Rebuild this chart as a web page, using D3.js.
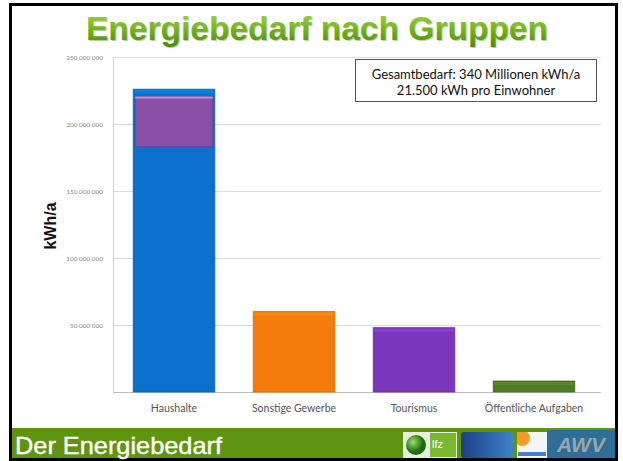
<!DOCTYPE html>
<html><head><meta charset="utf-8">
<script src="https://cdn.jsdelivr.net/npm/d3@7"></script>
<style>html,body{margin:0;padding:0;background:#fff;}svg{display:block;}</style>
</head><body>
<svg id="c" width="623" height="461"></svg>
<script>
const categories = ["Haushalte", "Sonstige Gewerbe", "Tourismus", "Öffentliche Aufgaben"];
const values = [226000000, 60000000, 48000000, 8200000];
const overlayCategory = ["Haushalte"];
const overlayLow = [183000000];
const overlayHigh = [220500000];
const yTicks = [0, 50000000, 100000000, 150000000, 200000000, 250000000];
const colors = ["#0a72cc", "#f57b0a", "#7a37bd", "#4f7a27"];
const titleText = "Energiebedarf nach Gruppen";
const footerText = "Der Energiebedarf";
const noteLines = ["Gesamtbedarf: 340 Millionen kWh/a", "21.500 kWh pro Einwohner"];
const yLabel = "kWh/a";

const svg = d3.select("#c");
const defs = svg.append("defs");
const tg = defs.append("linearGradient").attr("id","tg").attr("x1",0).attr("y1",0).attr("x2",0).attr("y2",1);
tg.append("stop").attr("offset","0%").attr("stop-color","#a6d840");
tg.append("stop").attr("offset","55%").attr("stop-color","#6fb21c");
tg.append("stop").attr("offset","100%").attr("stop-color","#4a8a08");

// frame
svg.append("rect").attr("x",10.5).attr("y",4.5).attr("width",606).attr("height",455).attr("fill","#fff").attr("stroke","#000").attr("stroke-width",3);

const x = d3.scaleBand().domain(categories).range([114, 594]).paddingInner(0.32).paddingOuter(0.16);
const y = d3.scaleLinear().domain([0, 250000000]).range([392, 57]);

// gridlines
svg.append("g").selectAll("line").data(yTicks).join("line")
  .attr("x1",113).attr("x2",601).attr("y1",d=>y(d)+0.5).attr("y2",d=>y(d)+0.5)
  .attr("stroke",d=>d===0?"#bfbfbf":"#dcdcdc").attr("stroke-width",1);
svg.append("line").attr("x1",113.5).attr("x2",113.5).attr("y1",57).attr("y2",392).attr("stroke","#d0d0d0");

// y axis labels
const fmt = v => d3.format(",")(v).replace(/,/g," ");
const yAxis = d3.axisLeft(y).tickValues(yTicks.filter(d=>d>0)).tickFormat(fmt).tickSize(0).tickPadding(10);
const ga = svg.append("g").attr("transform","translate(113,0)").call(yAxis);
ga.select(".domain").remove();
ga.selectAll("text").attr("font-family","Lato, sans-serif").attr("font-size",6.4).attr("fill","#8a8a8a");

// bars
const bars = svg.append("g");
categories.forEach((c,i)=>{
  const x0 = x(c), w = x.bandwidth(), y0 = y(values[i]), h = y(0)-y(values[i]);
  bars.append("rect").attr("x",x0).attr("y",y0).attr("width",w).attr("height",h)
    .attr("fill",colors[i]).attr("stroke",d3.color(colors[i]).darker(0.4)).attr("stroke-width",0.8);
  bars.append("rect").attr("x",x0+1).attr("y",y0+1).attr("width",w-2).attr("height",Math.min(3,h-2))
    .attr("fill",d3.color(colors[i]).brighter(0.5)).attr("opacity",0.6);
});
// overlay in Haushalte
overlayCategory.forEach((c,i)=>{
  const x0 = x(c)+2, w = x.bandwidth()-4;
  svg.append("rect").attr("x",x0).attr("y",y(overlayHigh[i])).attr("width",w)
    .attr("height",y(overlayLow[i])-y(overlayHigh[i])).attr("fill","#8c4fa6").attr("stroke","#5e3a8a").attr("stroke-width",0.6);
  svg.append("rect").attr("x",x0).attr("y",y(overlayHigh[i])).attr("width",w).attr("height",2).attr("fill","#c68ee0");
});

// category labels
svg.append("g").selectAll("text").data(categories).join("text")
  .attr("x",d=>x(d)+x.bandwidth()/2).attr("y",412).attr("text-anchor","middle")
  .attr("font-family","Lato, sans-serif").attr("font-size",10.5).attr("fill","#555").text(d=>d);

// y label
svg.append("text").attr("transform","translate(56,226) rotate(-90)").attr("text-anchor","middle")
  .attr("font-family","Liberation Sans, Arial, sans-serif").attr("font-weight","bold").attr("font-size",16).attr("fill","#111").text(yLabel);

// title
svg.append("text").attr("x",86).attr("y",40).attr("font-family","Liberation Sans, Arial, sans-serif").attr("font-weight","bold")
  .attr("font-size",33).attr("fill","#3d6b05").attr("opacity",0.35).attr("textLength",462).attr("lengthAdjust","spacingAndGlyphs")
  .attr("transform","translate(1,1)").text(titleText);
svg.append("text").attr("x",86).attr("y",40).attr("font-family","Liberation Sans, Arial, sans-serif").attr("font-weight","bold")
  .attr("font-size",33).attr("fill","url(#tg)").attr("textLength",462).attr("lengthAdjust","spacingAndGlyphs").text(titleText);

// note box
svg.append("rect").attr("x",355.5).attr("y",59.5).attr("width",241).attr("height",42).attr("fill","#fff").attr("stroke","#555").attr("stroke-width",1);
svg.append("g").selectAll("text").data(noteLines).join("text")
  .attr("x",476).attr("y",(d,i)=>79+i*16).attr("text-anchor","middle")
  .attr("font-family","Lato, sans-serif").attr("font-size",13).attr("fill","#111").text(d=>d);

// footer
svg.append("rect").attr("x",12).attr("y",428).attr("width",603).attr("height",30).attr("fill","#5f9410");
svg.append("text").attr("x",15).attr("y",454).attr("font-family","Liberation Sans, Arial, sans-serif").attr("font-size",24)
  .attr("fill","#fff").attr("stroke","#fff").attr("stroke-width",0.4).attr("textLength",207).attr("lengthAdjust","spacingAndGlyphs").text(footerText);

// logos (approximations)
const lg = svg.append("g");
lg.append("rect").attr("x",403).attr("y",432).attr("width",54).attr("height",26).attr("fill","#e8eee0");
const cg = defs.append("radialGradient").attr("id","cg").attr("cx","35%").attr("cy","35%");
cg.append("stop").attr("offset","0%").attr("stop-color","#9be06a");
cg.append("stop").attr("offset","100%").attr("stop-color","#1e6b0a");
lg.append("circle").attr("cx",416).attr("cy",445).attr("r",10).attr("fill","url(#cg)");
lg.append("rect").attr("x",430).attr("y",433).attr("width",26).attr("height",24).attr("fill","#7ab830");
lg.append("text").attr("x",432).attr("y",448).attr("font-family","Liberation Sans, Arial, sans-serif").attr("font-size",11).attr("fill","#fff").text("lfz");
const bg = defs.append("linearGradient").attr("id","bg").attr("x1",0).attr("x2",1);
bg.append("stop").attr("offset","0%").attr("stop-color","#1d3f86");
bg.append("stop").attr("offset","100%").attr("stop-color","#3d82c8");
lg.append("rect").attr("x",461).attr("y",432).attr("width",52).attr("height",26).attr("rx",3).attr("fill","url(#bg)");
lg.append("rect").attr("x",517).attr("y",432).attr("width",30).attr("height",26).attr("fill","#f4f6fa");
defs.append("clipPath").attr("id","lc").append("rect").attr("x",517).attr("y",432).attr("width",30).attr("height",26);
const lc = lg.append("g").attr("clip-path","url(#lc)");
lc.append("circle").attr("cx",522).attr("cy",438).attr("r",8).attr("fill","#f39a2a");
lc.append("rect").attr("x",518).attr("y",452).attr("width",28).attr("height",4).attr("fill","#4a7ec8");
lg.append("rect").attr("x",547).attr("y",430).attr("width",68).attr("height",28).attr("fill","#2f6f95");
lg.append("text").attr("x",581).attr("y",452).attr("text-anchor","middle").attr("font-family","Liberation Sans, Arial, sans-serif")
  .attr("font-weight","bold").attr("font-style","italic").attr("font-size",21).attr("fill","#9aa6ad").text("AWV");
</script>
</body></html>
